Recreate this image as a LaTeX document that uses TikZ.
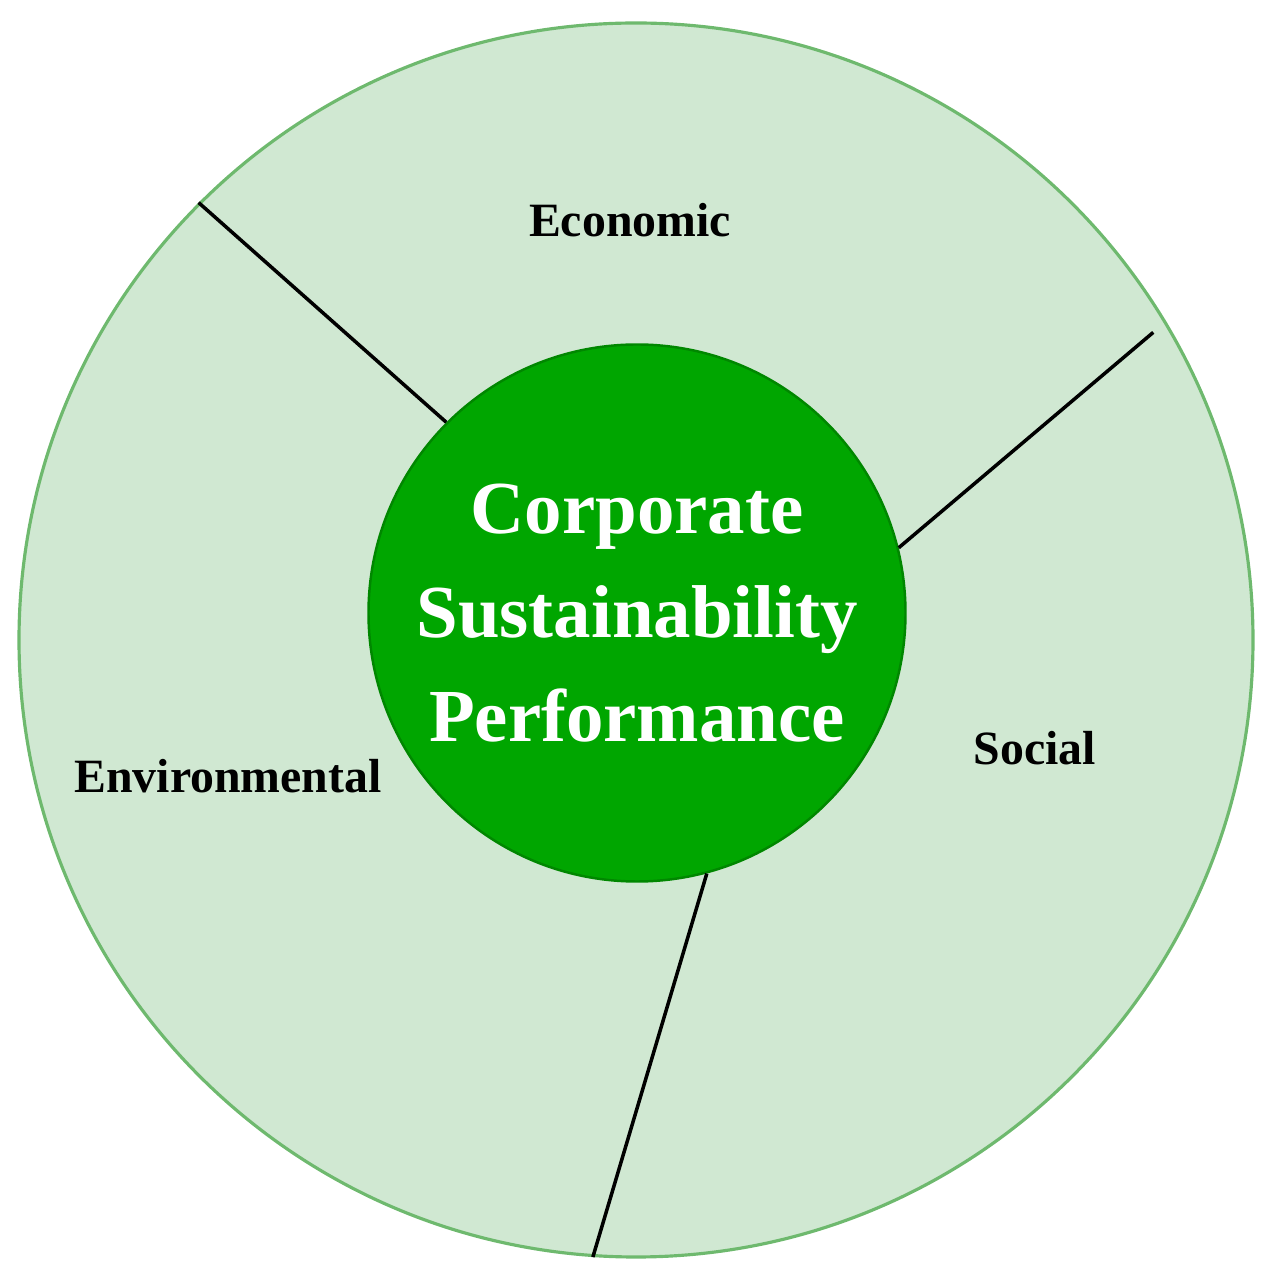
\documentclass[tikz,border=0pt]{standalone}
\usepackage{fontspec}
\setmainfont{Liberation Serif}
\usetikzlibrary{positioning}

\definecolor{ringfill}{RGB}{208,232,210}
\definecolor{ringline}{RGB}{110,185,110}
\definecolor{corefill}{RGB}{0,166,0}
\definecolor{coreline}{RGB}{0,135,0}

\tikzset{
  pillar/.style={font=\fontsize{13.6}{16}\selectfont\bfseries, text=black},
  spoke/.style={draw=black, line width=1pt}
}

\begin{document}
\begin{tikzpicture}
\useasboundingbox (0,0) rectangle (12.84,12.84);
\node[circle, draw=ringline, fill=ringfill, line width=0.9pt, minimum size=12.34cm] (ring) at (6.36,6.44) {};
\node[circle, draw=coreline, fill=corefill, line width=0.7pt, minimum size=5.37cm, inner sep=0pt,
      text=white, align=center, font=\fontsize{21.3}{29.6}\selectfont\bfseries] (core) at (6.37,6.71)
      {Corporate\\Sustainability\\Performance};
\draw[spoke] (core.135) -- (ring.135);
\draw[spoke, shorten >=0.17cm] (core.14) -- (ring.31);
\draw[spoke] (core.-75) -- (ring.-94);
\node[pillar] (econ) at (6.30,10.64) {Economic};
\node[pillar] (soc) at (10.35,5.36) {Social};
\node[pillar] (env) at (2.28,5.08) {Environmental};
\end{tikzpicture}
\end{document}
